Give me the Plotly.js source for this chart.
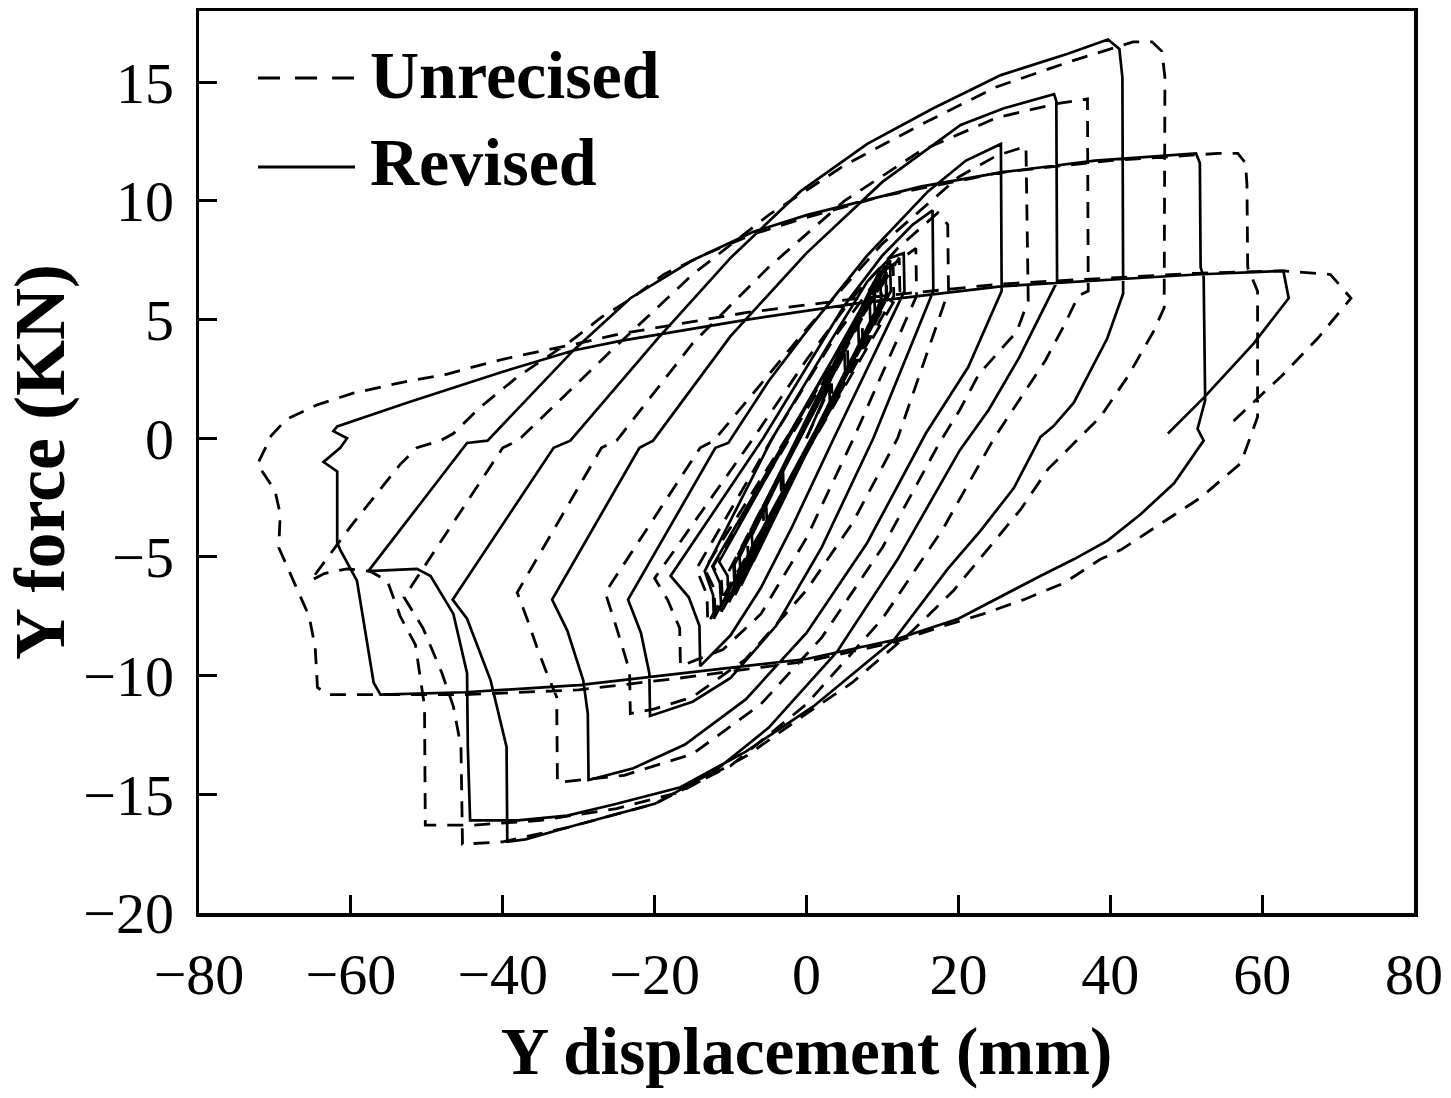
<!DOCTYPE html>
<html>
<head>
<meta charset="utf-8">
<script src="https://cdn.plot.ly/plotly-3.0.1.min.js"></script>
<style>html,body{margin:0;padding:0;background:#fff;}#chart{width:1451px;height:1098px;}</style>
</head>
<body>
<div id="chart"></div>
<script>
// Revised model (solid) – displacement (mm) and force (kN), traced in loading order
const revisedDisp = [
 0, 3, 3.1, -3, -3.1, 5, 5.1, -5.2, -5.3, 6.8, 6.9, -7, -7.2, 8.3, 8.4, -8.6, -8.8,
 8.9, 9.0, -9.4, -9.6, 9.7, 9.8, -10.2, -10.4, -11.5, 10.4, 10.5, -11.2, -11.4, -12.4,
 11, 11.1, -12.2, -12.3, -13.4,
 -4.5, 3, 8, 11, 12.8, 12.9, 3.6, -2, -6, -10, -14, -14.1, -15.5, -17.9,
 -5.7, 0, 5, 10, 14, 16.6, 16.7, 8.8, 2, -4, -10, -15, -20.6, -20.7, -21.8, -23.5,
 -12, -10.3, -5, 0, 8, 16, 21, 25.6, 25.7, 21.3, 15.7, 8, 0, -8, -16, -22.8, -28.7,
 -28.8, -29.4, -31.5, -33.5,
 -22, -20.2, -10, 0, 10, 20.3, 26, 32.6, 32.9, 33.0, 28, 24, 20.2, 12, 4, -5, -12, -20, -31.5, -37, -39.4,
 -39.5, -41.6, -44.7, -46.6,
 -33.3, -31.1, -19.6, -10, -0.8, 8, 16.7, 25.6, 34.4, 39.7, 41.2, 41.6, 41.7,
 39.6, 35.2, 32.5, 30.8, 27.3, 22.9, 18.6, 14.1, 11.5, 6.2, 0.9, -8, -16.6, -25, -31.5, -38, -44.3,
 -44.6, -44.7, -46.5, -49.5, -51.3, -57.7,
 -50, -44.7, -42, -30.7, -23.2, -15, -7, 0, 7.5, 15, 25.6, 38, 51.3,
 51.8, 51.9, 52.3, 52.5, 51.5, 52.3,
 48.4, 44, 39.7, 35.2, 30.8, 20, 11.5, 0, -16.6, -30, -45, -56.1,
 -57, -59.2, -61.4, -61.8, -61.8, -63.6, -61.4, -60.5, -62.3, -61.8,
 -52.6, -40, -30.7, -24.5, -7.8, 7.1, 25.6, 51.3, 62.8, 63.5, 58.9, 52.3, 47.6
];
const revisedForce = [
 0, 2.2, 1.3, -2.3, -1.4, 3.6, 2.6, -3.8, -2.8, 5.0, 3.9, -5.2, -4.1, 6.1, 4.9, -6.2, -5.0,
 6.6, 5.3, -6.6, -5.4, 7.1, 5.8, -6.9, -5.8, -5.2, 7.3, 6.0, -7.3, -6.1, -5.4,
 7.5, 6.2, -7.6, -6.6, -5.6,
 0, 4.0, 6.6, 7.6, 7.8, 6.2, 0, -3.8, -6.3, -8.3, -9.6, -7.9, -6.7, -5.8,
 0, 3.0, 5.6, 7.7, 9.0, 9.6, 6.2, 0, -4.6, -7.9, -10.1, -11.1, -11.7, -9.9, -8.2, -6.8,
 -0.4, -0.2, 2.4, 4.5, 7.7, 10.4, 11.7, 12.4, 6.2, 3.0, 0.2, -4.4, -8.2, -11.0, -12.9, -13.9, -14.4,
 -11.6, -10.2, -8.1, -6.8,
 -0.4, -0.1, 4.3, 7.8, 10.8, 13.2, 13.9, 14.5, 14.2, 6.6, 3.4, 1.2, -0.5, -5.1, -9.0, -12.2, -14.0, -15.4, -16.4, -16.9, -17.0,
 -13, -10.2, -7.6, -6.8,
 -0.4, -0.1, 4.2, 7.6, 10.4, 12.4, 13.9, 15.3, 16.2, 16.8, 16.4, 15.2, 6.1,
 4.2, 1.5, 0.5, 0.05, -2.1, -3.9, -5.5, -7.4, -8.5, -9.9, -11.3, -13.2, -14.7, -15.4, -15.9, -16.1, -16.1,
 -13, -9.9, -7.4, -5.8, -5.5, -5.6,
 -2.4, -0.2, -0.1, 3.7, 5.9, 7.5, 8.7, 9.4, 10.0, 10.6, 11.2, 11.7, 12.0,
 11.6, 7.2, 6.8, 1.6, 0.4, -0.1,
 -1.9, -3.2, -4.3, -5.1, -5.8, -7.6, -8.5, -9.3, -9.9, -10.4, -10.7, -10.8,
 -10.3, -6.0, -4.7, -4.4, -1.4, -1.0, -0.4, 0, 0.3, 0.5,
 1.5, 2.8, 3.7, 4.1, 5.0, 5.7, 6.4, 6.9, 7.05, 5.9, 4.0, 1.7, 0.2
];

// Unrevised model (dashed)
const unrevisedDisp = [
 0, 3.3, 3.4, -3.3, -3.4, 5.4, 5.5, -5.6, -5.7, 7.3, 7.4, -7.6, -7.8, 9, 9.1, -9.3, -9.5,
 9.8, 9.9, -10.2, -10.4, 10.5, 10.6, -11, -11.2, -12.3, 11.4, 11.5, -12, -12.2, -13.4,
 12.2, 12.3, -13, -13.1, -14.5,
 -4.5, 4, 10, 14.4, 14.5, 6.2, 0, -6, -11, -16.6, -16.7, -18.3, -20,
 -7, 0, 6, 12, 17.3, 18.6, 18.7, 12, 6, 0, -8, -15, -20, -23.2, -23.3, -25, -26.5,
 -14, -12.2, 0, 10, 20, 25, 28.9, 29.2, 27.7, 22.7, 20.2, 17.5, 10, 2, -6, -15, -24, -32.8,
 -32.9, -34.2, -35.5, -36.8, -38.1,
 -27, -25, -15, -5, 5, 15, 25, 33, 37, 37.1, 35.8, 34, 31.5, 24.7, 18, 10, 0, -10, -20, -31.5, -40, -45.3,
 -45.5, -46.5, -48, -50.5, -53,
 -40, -38, -26, -15, -5, 5, 15, 25, 35, 43, 45.5, 46.8, 47.2, 47.1,
 45.7, 42.3, 38.7, 35.2, 31.8, 28.2, 23.8, 19.4, 14, 6, 0, -8, -16.6, -25, -35, -44, -50.2,
 -50.3, -51.5, -53.5, -55.2, -57.5, -60.5, -63.5, -65.3,
 -60, -53.5, -51.3, -48.2, -46.5, -43, -38, -31, -27, -23, -18.8, -13, -7, 0, 10, 25.6, 40, 54.2, 56.8, 57.8,
 58.0, 58.1, 59.4, 59.4, 58.6, 57.2,
 51.9, 46.2, 41.4, 38.7, 33.9, 28.6, 23.3, 18.1, 11.5, 0, -16.6, -30, -45, -59.7, -63, -64.4,
 -64.7, -65.5, -67.6, -69.5, -69.3, -70, -72.3, -70.5, -68.5,
 -64.5, -59.7, -52.6, -47.3, -44, -39, -31.5, -24.5, -7.8, 7, 25.6, 51.3, 62.8, 69, 71.7, 67.3, 62.5, 56.8, 55.5
];
const unrevisedForce = [
 0, 2.3, 1.4, -2.4, -1.5, 3.8, 2.8, -4.0, -3.0, 5.2, 4.1, -5.4, -4.3, 6.3, 5.1, -6.4, -5.2,
 6.7, 5.5, -6.9, -5.7, 7.0, 5.8, -7.2, -6.0, -5.4, 7.3, 6.0, -7.5, -6.3, -5.5,
 7.6, 6.2, -7.8, -6.6, -5.5,
 0, 4.4, 7.0, 8.0, 6.0, 0, -4.2, -7.4, -8.9, -9.6, -8.0, -6.8, -5.9,
 0, 3.3, 5.9, 8.0, 9.5, 9.0, 6.2, 0, -3.6, -6.4, -9.3, -10.9, -11.4, -11.6, -9.8, -8.0, -6.5,
 -0.4, -0.1, 4.6, 8.2, 11.0, 11.9, 12.3, 5.8, 4.5, 2.7, 1.2, -0.2, -4.6, -8.4, -11.2, -13.3, -14.2, -14.5,
 -10.9, -9.9, -8.8, -7.6, -6.5,
 -0.4, -0.1, 4.0, 7.2, 10.0, 12.1, 13.5, 14.1, 14.3, 6.2, 6.0, 4.8, 3.3, 0, -3.8, -7.6, -11.2, -13.8, -15.4, -16.4, -17.0, -17.1,
 -13, -11.3, -9.9, -8.0, -6.7,
 -0.4, -0.1, 3.6, 6.9, 9.4, 11.5, 13.2, 14.8, 15.9, 16.7, 16.7, 16.3, 15.2, 5.5,
 4.5, 2.6, 0.9, -0.2, -1.3, -3.0, -4.7, -6.4, -8.1, -10.3, -11.6, -13.4, -14.9, -15.6, -16.1, -16.3, -16.3,
 -11.3, -8.7, -7.5, -6.0, -5.6, -5.5, -5.7, -6.0,
 -3.7, -1.1, -0.4, -0.1, 0.2, 1.3, 2.6, 4.1, 5.1, 5.9, 6.9, 7.8, 8.6, 9.3, 10.2, 11.2, 11.7, 12.0, 12.0, 11.6,
 10.7, 7.2, 6.2, 0.9, 0.2, -1.05,
 -2.5, -3.7, -4.7, -5.1, -6.1, -6.8, -7.4, -7.9, -8.6, -9.4, -10.1, -10.6, -10.8, -10.8, -10.8, -10.5,
 -8.8, -7.5, -6.0, -4.6, -3.2, -2.2, -1.1, 0.1, 0.8,
 1.4, 1.9, 2.4, 2.7, 3.0, 3.4, 3.9, 4.4, 5.3, 5.9, 6.5, 6.95, 7.05, 6.9, 5.9, 4.2, 2.6, 0.9, 0.5
];

const xTicks = [-80, -60, -40, -20, 0, 20, 40, 60, 80];
const yTicks = [-20, -15, -10, -5, 0, 5, 10, 15];
const seriesNames = ['Unrecised', 'Revised'];

const FONT = 'Liberation Serif, Times New Roman, serif';

const traces = [
  {x: unrevisedDisp, y: unrevisedForce, name: seriesNames[0], type: 'scatter', mode: 'lines',
   line: {color: '#000', width: 2.8, dash: '16px,11px'}, showlegend: false},
  {x: revisedDisp, y: revisedForce, name: seriesNames[1], type: 'scatter', mode: 'lines',
   line: {color: '#000', width: 2.7}, showlegend: false}
];

const layout = {
  width: 1451, height: 1098,
  margin: {l: 199, r: 37, t: 11, b: 185},
  paper_bgcolor: '#fff', plot_bgcolor: '#fff',
  font: {family: FONT, color: '#000'},
  xaxis: {
    range: [-80, 80], tickvals: xTicks, ticktext: xTicks.map(v => v < 0 ? '\u2212' + Math.abs(v) : String(v)),
    ticks: 'inside', ticklen: 18, tickwidth: 3, tickcolor: '#000',
    showline: true, linewidth: 3.5, linecolor: '#000', mirror: true,
    showgrid: false, zeroline: false,
    tickfont: {family: FONT, size: 58, color: '#000'}, ticklabelstandoff: 8,
    title: {text: 'Y displacement (mm)', font: {family: FONT, size: 67, color: '#000', weight: 'bold'}, standoff: 22}
  },
  yaxis: {
    range: [-20, 18], tickvals: yTicks, ticktext: yTicks.map(v => v < 0 ? '\u2212' + Math.abs(v) : String(v)),
    ticks: 'inside', ticklen: 18, tickwidth: 3, tickcolor: '#000',
    showline: true, linewidth: 3.5, linecolor: '#000', mirror: true,
    showgrid: false, zeroline: false,
    tickfont: {family: FONT, size: 58, color: '#000'}, ticklabelstandoff: 10,
    title: {text: 'Y force (KN)', font: {family: FONT, size: 72, color: '#000', weight: 'bold'}, standoff: 10}
  },
  shapes: [
    {type: 'line', xref: 'paper', yref: 'paper', x0: 0.0486, x1: 0.1284, y0: 0.9257, y1: 0.9257,
     line: {color: '#000', width: 3, dash: '22px,15px'}},
    {type: 'line', xref: 'paper', yref: 'paper', x0: 0.0486, x1: 0.1284, y0: 0.827, y1: 0.827,
     line: {color: '#000', width: 3}}
  ],
  annotations: [
    {xref: 'paper', yref: 'paper', x: 0.139, y: 0.929, xanchor: 'left', yanchor: 'middle', showarrow: false,
     text: '<b>' + seriesNames[0] + '</b>', font: {family: FONT, size: 68, color: '#000'}},
    {xref: 'paper', yref: 'paper', x: 0.139, y: 0.833, xanchor: 'left', yanchor: 'middle', showarrow: false,
     text: '<b>' + seriesNames[1] + '</b>', font: {family: FONT, size: 68, color: '#000'}}
  ]
};

Plotly.newPlot('chart', traces, layout, {staticPlot: true, displayModeBar: false});
</script>
</body>
</html>
